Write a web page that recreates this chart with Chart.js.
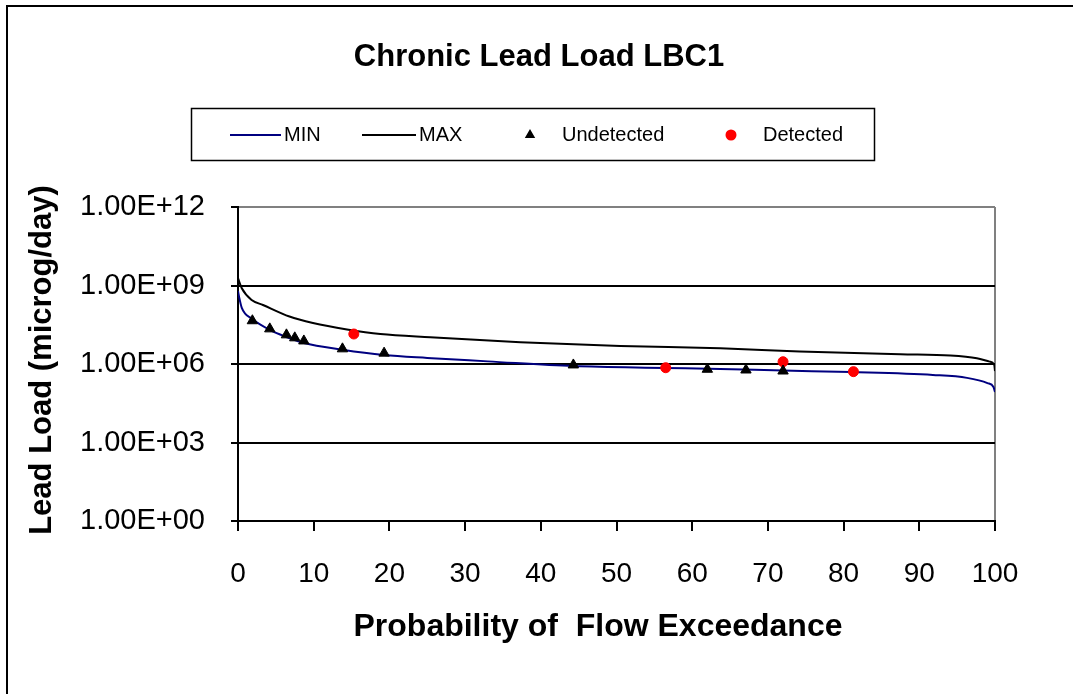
<!DOCTYPE html>
<html>
<head>
<meta charset="utf-8">
<script src="https://cdn.jsdelivr.net/npm/chart.js@4"></script>
<style>
  body { margin: 0; background: #fff; }
  #wrap { position: relative; width: 1073px; height: 694px; }
</style>
</head>
<body>
<div id="wrap"><canvas id="chart"></canvas></div>
<script>
// values (x = % exceedance, y = microg/day)
const minPct  = [0, 0.15, 0.5, 1.9, 4.2, 6.4, 8.7, 13.8, 19.3, 25, 33, 44.3, 56.5, 63.7, 72, 81, 91.8, 96.3, 99.0, 99.8, 100];
const minLoad = [6.2e8, 3.6e8, 1.4e8, 5.2e7, 2.0e7, 1.07e7, 6.3e6, 3.5e6, 2.2e6, 1.7e6, 1.26e6, 8.3e5, 7.1e5, 6.5e5, 5.6e5, 4.9e5, 3.8e5, 2.95e5, 1.86e5, 1.32e5, 8.5e4];

const maxPct  = [0, 0.5, 1.8, 3.3, 6.8, 9.9, 14.4, 18.8, 25.4, 37.3, 50.5, 63.7, 74.2, 87.5, 94.1, 97.6, 99.3, 99.9, 100];
const maxLoad = [1.9e9, 7.8e8, 2.8e8, 1.8e8, 6.5e7, 3.7e7, 2.1e7, 1.4e7, 1.05e7, 6.8e6, 4.9e6, 4.0e6, 3.0e6, 2.35e6, 2.1e6, 1.65e6, 1.23e6, 9.2e5, 5.4e5];

const undetPct  = [1.9, 4.2, 6.4, 7.5, 8.7, 13.8, 19.3, 44.3, 62.0, 67.1, 72.0];
const undetLoad = [4.5e7, 2.2e7, 1.3e7, 1.0e7, 7.6e6, 3.8e6, 2.6e6, 9.2e5, 6.3e5, 5.9e5, 5.4e5];

const detPct  = [15.3, 56.5, 72.0, 81.3];
const detLoad = [1.4e7, 7.2e5, 1.22e6, 5.1e5];

const yTicks = [1, 1e3, 1e6, 1e9, 1e12];

const FONT = "'Liberation Sans', Arial, sans-serif";

function pts(xs, ys) {
    return xs.map((x, i) => ({ x: x, y: ys[i] }));
}

function sciLabel(v) {
    const e = Math.round(Math.log10(v));
    return '1.00E+' + String(e).padStart(2, '0');
}

// title, axis titles, legend box and outer frame
const decorations = {
    id: 'decorations',
    beforeDraw(chart) {
        const ctx = chart.ctx;
        ctx.save();
        ctx.fillStyle = '#fff';
        ctx.fillRect(0, 0, chart.width, chart.height);
        ctx.strokeStyle = '#000';
        ctx.lineWidth = 2;
        ctx.beginPath();
        ctx.moveTo(7, 694);
        ctx.lineTo(7, 6);
        ctx.lineTo(1073, 6);
        ctx.stroke();
        ctx.restore();
    },
    afterDraw(chart) {
        const ctx = chart.ctx;
        const ds = chart.data.datasets;
        ctx.save();
        ctx.fillStyle = '#000';

        ctx.font = 'bold 31px ' + FONT;
        ctx.textAlign = 'center';
        ctx.textBaseline = 'alphabetic';
        ctx.fillText('Chronic Lead Load LBC1', 539, 66);

        ctx.font = 'bold 32px ' + FONT;
        ctx.fillText('Probability of  Flow Exceedance', 598, 636);

        ctx.save();
        ctx.translate(51, 360);
        ctx.rotate(-Math.PI / 2);
        ctx.font = 'bold 31px ' + FONT;
        ctx.fillText('Lead Load (microg/day)', 0, 0);
        ctx.restore();

        // legend
        ctx.lineWidth = 1.5;
        ctx.strokeStyle = '#000';
        ctx.strokeRect(191.5, 108.5, 683, 52);

        const ly = 135;
        ctx.font = '20px ' + FONT;
        ctx.textAlign = 'left';
        ctx.textBaseline = 'middle';

        ctx.lineWidth = 2;
        ctx.strokeStyle = ds[0].borderColor;
        ctx.beginPath(); ctx.moveTo(230, ly); ctx.lineTo(281, ly); ctx.stroke();
        ctx.fillText(ds[0].label, 284, ly);

        ctx.strokeStyle = ds[1].borderColor;
        ctx.beginPath(); ctx.moveTo(362, ly); ctx.lineTo(416, ly); ctx.stroke();
        ctx.fillText(ds[1].label, 419, ly);

        ctx.fillStyle = ds[2].backgroundColor;
        ctx.strokeStyle = ds[2].borderColor;
        Chart.helpers.drawPoint(ctx, { pointStyle: 'triangle', radius: 4, rotation: 0, borderWidth: 1 }, 530, ly);
        ctx.fillStyle = '#000';
        ctx.fillText(ds[2].label, 562, ly);

        ctx.fillStyle = ds[3].backgroundColor;
        ctx.strokeStyle = ds[3].borderColor;
        Chart.helpers.drawPoint(ctx, { pointStyle: 'circle', radius: 4.5, rotation: 0, borderWidth: 1 }, 731, ly);
        ctx.fillStyle = '#000';
        ctx.fillText(ds[3].label, 763, ly);

        ctx.restore();
    }
};

const ctx = document.getElementById('chart').getContext('2d');

new Chart(ctx, {
    type: 'line',
    data: {
        datasets: [
            {
                label: 'MIN',
                data: pts(minPct, minLoad),
                borderColor: '#000080',
                borderWidth: 2,
                pointRadius: 0,
                cubicInterpolationMode: 'monotone',
                order: 2,
            },
            {
                label: 'MAX',
                data: pts(maxPct, maxLoad),
                borderColor: '#000000',
                borderWidth: 2,
                pointRadius: 0,
                cubicInterpolationMode: 'monotone',
                order: 2,
            },
            {
                label: 'Undetected',
                data: pts(undetPct, undetLoad),
                showLine: false,
                pointStyle: 'triangle',
                pointRadius: 6,
                backgroundColor: '#000000',
                borderColor: '#000000',
                borderWidth: 1,
                order: 1,
            },
            {
                label: 'Detected',
                data: pts(detPct, detLoad),
                showLine: false,
                pointStyle: 'circle',
                pointRadius: 5,
                backgroundColor: '#ff0000',
                borderColor: '#ff0000',
                borderWidth: 1,
                order: 1,
            },
        ],
    },
    options: {
        responsive: true,
        maintainAspectRatio: false,
        animation: false,
        layout: {
            padding: { left: 0, top: 207, right: 78, bottom: 0 },
        },
        plugins: {
            legend: { display: false },
            title: { display: false },
            tooltip: { enabled: false },
        },
        scales: {
            x: {
                type: 'linear',
                min: 0,
                max: 100,
                afterFit: (scale) => { scale.height = 173; },
                ticks: {
                    stepSize: 10,
                    color: '#000',
                    padding: 26,
                    maxRotation: 0,
                    font: { family: FONT, size: 28 },
                },
                grid: {
                    color: (c) => (c.tick && c.tick.value === 100 ? '#808080' : 'rgba(0,0,0,0)'),
                    tickColor: '#000',
                    tickLength: 10,
                    lineWidth: 2,
                },
                border: { color: '#000', width: 2 },
            },
            y: {
                type: 'logarithmic',
                min: 1,
                max: 1e12,
                afterFit: (scale) => { scale.width = 238; },
                afterBuildTicks: (scale) => {
                    scale.ticks = yTicks.map(v => ({ value: v }));
                },
                ticks: {
                    color: '#000',
                    padding: 26,
                    font: { family: FONT, size: 29 },
                    callback: (v) => sciLabel(v),
                },
                grid: {
                    color: (c) => (c.tick && c.tick.value === 1e12 ? '#808080' : '#000'),
                    tickColor: '#000',
                    tickLength: 7,
                    lineWidth: 2,
                },
                border: { color: '#000', width: 2 },
            },
        },
    },
    plugins: [decorations],
});
</script>
</body>
</html>
